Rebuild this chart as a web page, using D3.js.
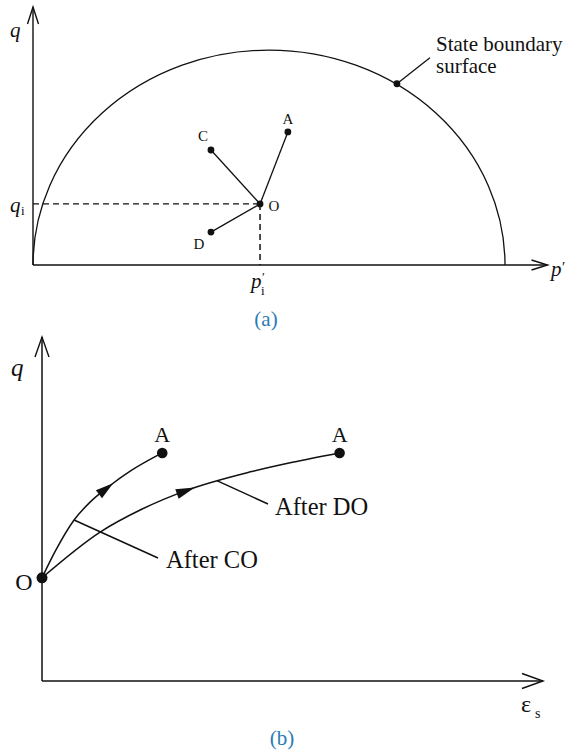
<!DOCTYPE html>
<html>
<head>
<meta charset="utf-8">
<script src="https://cdn.jsdelivr.net/npm/d3@7"></script>
<style>
  html, body { margin: 0; padding: 0; background: #fff; }
  svg text { font-family: "Liberation Serif", "Times New Roman", serif; fill: #111; }
</style>
</head>
<body>
<svg id="chart" width="569" height="751"></svg>
<script>
// ---- Panel (a): stress paths in p'–q space ----
const boundaryExtent = [0, 100];           // state boundary surface spans p' = 0..100, peak q = 100
const pointO = { name: "O", p: 48.1, q: 28.4 };
const stressEnds = [
  { name: "A", p: 54.0, q: 61.9 },
  { name: "C", p: 37.7, q: 53.5 },
  { name: "D", p: 37.7, q: 15.3 }
];
const boundaryPoint = { p: 77.1, q: 84.3 };
const boundaryLabel = ["State boundary", "surface"];

// ---- Panel (b): q–εs response from O to A ----
const pathAfterCO = [[0, 30], [2.6, 37.6], [6.4, 46.8], [9.6, 52.0], [13.2, 56.4], [17.6, 61.0], [24, 66.3]];
const pathAfterDO = [[0, 30], [11.6, 43.3], [20, 50.0], [29, 55.5], [41.6, 60.8], [50, 63.6], [59.4, 66.3]];
const curveLabels = ["After CO", "After DO"];
const captions = ["(a)", "(b)"];

const svg = d3.select("#chart");
const ink = "#111";
const blue = "#2a7ab5";

function openArrow(g, tip, dir, len, half) {
  // dir: unit vector pointing toward the tip
  const [dx, dy] = dir, nx = -dy, ny = dx;
  const bx = tip[0] - dx * len, by = tip[1] - dy * len;
  g.append("path")
    .attr("d", `M${bx + nx * half},${by + ny * half}L${tip[0]},${tip[1]}L${bx - nx * half},${by - ny * half}`)
    .attr("fill", "none").attr("stroke", ink).attr("stroke-width", 1.4);
}

// ================= Panel (a) =================
const xa = d3.scaleLinear().domain([0, 109]).range([33, 547.5]);
const ya = d3.scaleLinear().domain([0, 120]).range([265, 7]);
const ga = svg.append("g");

// axes
ga.append("line").attr("x1", xa(0)).attr("y1", ya(0)).attr("x2", xa(0)).attr("y2", ya(120))
  .attr("stroke", ink).attr("stroke-width", 1.4);
ga.append("line").attr("x1", xa(0)).attr("y1", ya(0)).attr("x2", xa(109)).attr("y2", ya(0))
  .attr("stroke", ink).attr("stroke-width", 1.4);
openArrow(ga, [xa(0), ya(120)], [0, -1], 17, 5.5);
openArrow(ga, [xa(109), ya(0)], [1, 0], 16, 5);

// state boundary surface (half ellipse)
const rx = (xa(boundaryExtent[1]) - xa(boundaryExtent[0])) / 2;
const ry = ya(0) - ya(100);
ga.append("path")
  .attr("d", `M${xa(boundaryExtent[0])},${ya(0)} A${rx},${ry} 0 0 1 ${xa(boundaryExtent[1])},${ya(0)}`)
  .attr("fill", "none").attr("stroke", ink).attr("stroke-width", 1.3);

// dashed projections of O
ga.append("line").attr("x1", xa(0)).attr("y1", ya(pointO.q)).attr("x2", xa(pointO.p)).attr("y2", ya(pointO.q))
  .attr("stroke", ink).attr("stroke-width", 1.3).attr("stroke-dasharray", "6,4");
ga.append("line").attr("x1", xa(pointO.p)).attr("y1", ya(pointO.q)).attr("x2", xa(pointO.p)).attr("y2", ya(0))
  .attr("stroke", ink).attr("stroke-width", 1.5).attr("stroke-dasharray", "6,4");

// stress paths
ga.selectAll("line.sp").data(stressEnds).join("line").attr("class", "sp")
  .attr("x1", xa(pointO.p)).attr("y1", ya(pointO.q))
  .attr("x2", d => xa(d.p)).attr("y2", d => ya(d.q))
  .attr("stroke", ink).attr("stroke-width", 1.3);
ga.selectAll("circle.sp").data(stressEnds.concat([pointO])).join("circle").attr("class", "sp")
  .attr("cx", d => xa(d.p)).attr("cy", d => ya(d.q)).attr("r", 3.4).attr("fill", ink);

const labelOffset = { A: [0, -13], C: [-8, -14], D: [-12, 12], O: [14, 2] };
ga.selectAll("text.sp").data(stressEnds.concat([pointO])).join("text").attr("class", "sp")
  .attr("x", d => xa(d.p) + labelOffset[d.name][0])
  .attr("y", d => ya(d.q) + labelOffset[d.name][1] + 5)
  .attr("text-anchor", "middle")
  .attr("font-size", 15).text(d => d.name);

// boundary point + leader
ga.append("circle").attr("cx", xa(boundaryPoint.p)).attr("cy", ya(boundaryPoint.q)).attr("r", 3.4).attr("fill", ink);
ga.append("line").attr("x1", xa(boundaryPoint.p)).attr("y1", ya(boundaryPoint.q))
  .attr("x2", xa(boundaryPoint.p) + 33).attr("y2", ya(boundaryPoint.q) - 26)
  .attr("stroke", ink).attr("stroke-width", 1.3);
ga.selectAll("text.bl").data(boundaryLabel).join("text").attr("class", "bl")
  .attr("x", 436).attr("y", (d, i) => 51 + i * 22).attr("font-size", 21).text(d => d);

// axis labels
ga.append("text").attr("x", 10).attr("y", 37).attr("font-size", 21).attr("font-style", "italic").text("q");
ga.append("text").attr("x", 10).attr("y", 212).attr("font-size", 21).attr("font-style", "italic").text("q");
ga.append("text").attr("x", 21).attr("y", 215).attr("font-size", 13).text("i");
ga.append("text").attr("x", 251).attr("y", 288).attr("font-size", 21).attr("font-style", "italic").text("p");
ga.append("text").attr("x", 262).attr("y", 281).attr("font-size", 13).text("′");
ga.append("text").attr("x", 261).attr("y", 295).attr("font-size", 13).text("i");
ga.append("text").attr("x", 551).attr("y", 276).attr("font-size", 21).attr("font-style", "italic").text("p");
ga.append("text").attr("x", 562).attr("y", 272).attr("font-size", 15).text("′");

svg.append("text").attr("x", 266).attr("y", 326).attr("text-anchor", "middle")
  .attr("font-size", 21).style("fill", blue).text(captions[0]);

// ================= Panel (b) =================
const xb = d3.scaleLinear().domain([0, 100]).range([42, 543]);
const yb = d3.scaleLinear().domain([0, 100]).range([681, 337]);
const gb = svg.append("g");

gb.append("line").attr("x1", xb(0)).attr("y1", yb(0)).attr("x2", xb(0)).attr("y2", yb(100))
  .attr("stroke", ink).attr("stroke-width", 1.5);
gb.append("line").attr("x1", xb(0)).attr("y1", yb(0)).attr("x2", xb(100)).attr("y2", yb(0))
  .attr("stroke", ink).attr("stroke-width", 1.5);
openArrow(gb, [xb(0), yb(100)], [0, -1], 20, 7);
openArrow(gb, [xb(100), yb(0)], [1, 0], 21, 7.5);

const line = d3.line().x(d => xb(d[0])).y(d => yb(d[1])).curve(d3.curveMonotoneX);
const paths = [pathAfterCO, pathAfterDO].map(data =>
  gb.append("path").attr("d", line(data)).attr("fill", "none").attr("stroke", ink).attr("stroke-width", 1.5).node());

// locate the path length at which the curve reaches a given x
function lengthAtX(node, px) {
  let lo = 0, hi = node.getTotalLength();
  for (let k = 0; k < 40; k++) {
    const mid = (lo + hi) / 2;
    if (node.getPointAtLength(mid).x < px) lo = mid; else hi = mid;
  }
  return lo;
}
function filledArrow(node, tipX, len, half) {
  const lt = lengthAtX(node, tipX);
  const tip = node.getPointAtLength(lt);
  const base = node.getPointAtLength(Math.max(0, lt - len));
  let dx = tip.x - base.x, dy = tip.y - base.y;
  const m = Math.hypot(dx, dy); dx /= m; dy /= m;
  const nx = -dy, ny = dx;
  const bx = tip.x - dx * len, by = tip.y - dy * len;
  gb.append("path")
    .attr("d", `M${tip.x},${tip.y}L${bx + nx * half},${by + ny * half}L${bx - nx * half},${by - ny * half}Z`)
    .attr("fill", ink);
}
filledArrow(paths[0], xb(14.2), 18, 5);
filledArrow(paths[1], xb(30.5), 19, 5);

// end points
const ends = [pathAfterCO[pathAfterCO.length - 1], pathAfterDO[pathAfterDO.length - 1]];
gb.selectAll("circle.end").data(ends).join("circle").attr("class", "end")
  .attr("cx", d => xb(d[0])).attr("cy", d => yb(d[1])).attr("r", 5.3).attr("fill", ink);
gb.selectAll("text.end").data(ends).join("text").attr("class", "end")
  .attr("x", d => xb(d[0])).attr("y", d => yb(d[1]) - 11)
  .attr("text-anchor", "middle").attr("font-size", 22).text("A");
gb.append("circle").attr("cx", xb(pathAfterCO[0][0])).attr("cy", yb(pathAfterCO[0][1])).attr("r", 5.5).attr("fill", ink);
gb.append("text").attr("x", 24).attr("y", 590).attr("text-anchor", "middle").attr("font-size", 24).text("O");

// leaders to curve labels
const leaderStart = [paths[0].getPointAtLength(lengthAtX(paths[0], xb(6.4))),
                     paths[1].getPointAtLength(lengthAtX(paths[1], xb(34.9)))];
const leaderEnd = [[158, 558], [268, 504]];
const labelPos = [[166, 568], [275, 515]];
leaderStart.forEach((s, i) => {
  gb.append("line").attr("x1", s.x).attr("y1", s.y).attr("x2", leaderEnd[i][0]).attr("y2", leaderEnd[i][1])
    .attr("stroke", ink).attr("stroke-width", 1.5);
  gb.append("text").attr("x", labelPos[i][0]).attr("y", labelPos[i][1]).attr("font-size", 24.5).text(curveLabels[i]);
});

// axis labels
gb.append("text").attr("x", 11).attr("y", 376).attr("font-size", 25).attr("font-style", "italic").text("q");
gb.append("text").attr("x", 521).attr("y", 712).attr("font-size", 24).text("ε");
gb.append("text").attr("x", 535).attr("y", 718).attr("font-size", 14).text("s");

svg.append("text").attr("x", 282).attr("y", 745).attr("text-anchor", "middle")
  .attr("font-size", 21).style("fill", blue).text(captions[1]);
</script>
</body>
</html>
